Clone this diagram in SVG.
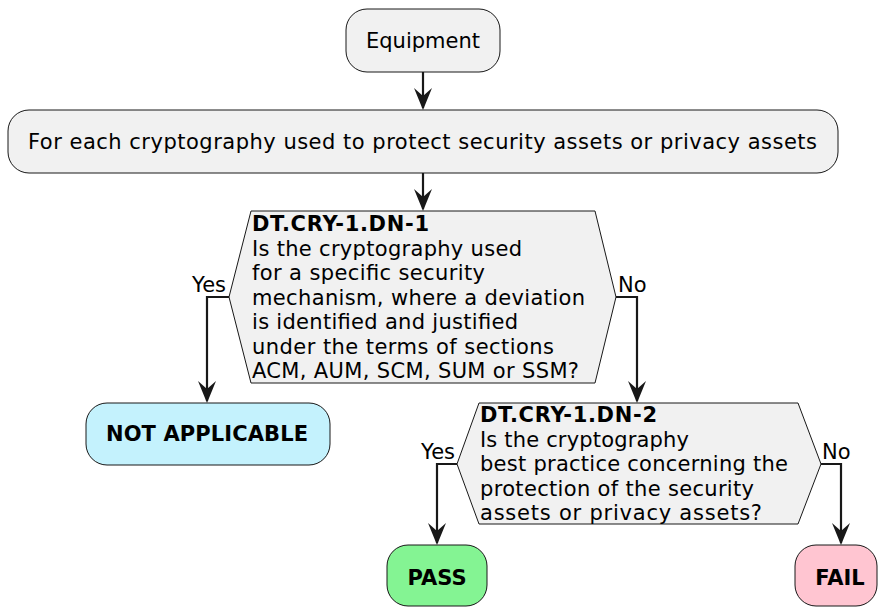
<svg xmlns="http://www.w3.org/2000/svg" width="878" height="607" viewBox="0 0 878 607">
  <style>
    .box { fill: #F1F1F1; stroke: #181818; stroke-width: 1; }
    .txt { font-family: "DejaVu Sans", "Liberation Sans", sans-serif; font-size: 21px; fill: #000000; }
    .bold { font-weight: bold; }
    .lbl { font-family: "DejaVu Sans", "Liberation Sans", sans-serif; font-size: 21px; fill: #000000; }
    .edge { fill: none; stroke: #181818; stroke-width: 2.2; }
    .head { fill: #181818; }
  </style>
  <rect width="878" height="607" fill="#FFFFFF"/>

  <!-- connectors: orthogonal flow lines with notched arrowheads -->
  <g id="connectors">
    <path class="edge" d="M423,72 L423,108"/>
    <polygon class="head" points="414,88 423,110 432,88 423,96"/>
    <path class="edge" d="M423,173 L423,209"/>
    <polygon class="head" points="414,189 423,211 432,189 423,197"/>
    <path class="edge" d="M229,297 L207,297 L207,401"/>
    <polygon class="head" points="198,381 207,403 216,381 207,389"/>
    <path class="edge" d="M616,297 L637,297 L637,401"/>
    <polygon class="head" points="628,381 637,403 646,381 637,389"/>
    <path class="edge" d="M457,464 L437,464 L437,543"/>
    <polygon class="head" points="428,523 437,545 446,523 437,531"/>
    <path class="edge" d="M821,464 L841,464 L841,543"/>
    <polygon class="head" points="832,523 841,545 850,523 841,531"/>
    <text class="lbl" x="226" y="292" text-anchor="end">Yes</text>
    <text class="lbl" x="618" y="292">No</text>
    <text class="lbl" x="455" y="459" text-anchor="end">Yes</text>
    <text class="lbl" x="822" y="459">No</text>
  </g>

  <g id="equipment">
    <rect class="box" x="346" y="9" width="154" height="63" rx="21"/>
    <text class="txt" x="423" y="48" text-anchor="middle">Equipment</text>
  </g>

  <g id="for-each">
    <rect class="box" x="8" y="110" width="830" height="63" rx="21"/>
    <text class="txt" x="28" y="149" textLength="789" lengthAdjust="spacing">For each cryptography used to protect security assets or privacy assets</text>
  </g>

  <g id="dn-1">
    <polygon class="box" points="251,211 595,211 616,297 595,383 251,383 229,297"/>
    <text class="txt bold" x="252" y="231" textLength="177" lengthAdjust="spacing">DT.CRY-1.DN-1</text>
    <text class="txt" x="252" y="255.5" textLength="270" lengthAdjust="spacing">Is the cryptography used</text>
    <text class="txt" x="252" y="280" textLength="233" lengthAdjust="spacing">for a specific security</text>
    <text class="txt" x="252" y="304.5" textLength="333" lengthAdjust="spacing">mechanism, where a deviation</text>
    <text class="txt" x="252" y="329" textLength="266" lengthAdjust="spacing">is identified and justified</text>
    <text class="txt" x="252" y="353.5" textLength="302" lengthAdjust="spacing">under the terms of sections</text>
    <text class="txt" x="252" y="378" textLength="327" lengthAdjust="spacing">ACM, AUM, SCM, SUM or SSM?</text>
  </g>

  <g id="not-applicable">
    <rect class="box" x="86" y="403" width="244" height="62" rx="21" style="fill:#C4F2FD"/>
    <text class="txt bold" x="106" y="441" textLength="202" lengthAdjust="spacing">NOT APPLICABLE</text>
  </g>

  <g id="dn-2">
    <polygon class="box" points="479,403 798,403 821,464 798,524 479,524 457,464"/>
    <text class="txt bold" x="480" y="422" textLength="177" lengthAdjust="spacing">DT.CRY-1.DN-2</text>
    <text class="txt" x="480" y="446.5" textLength="209" lengthAdjust="spacing">Is the cryptography</text>
    <text class="txt" x="480" y="471" textLength="308" lengthAdjust="spacing">best practice concerning the</text>
    <text class="txt" x="480" y="495.5" textLength="274" lengthAdjust="spacing">protection of the security</text>
    <text class="txt" x="480" y="520" textLength="282" lengthAdjust="spacing">assets or privacy assets?</text>
  </g>

  <g id="pass">
    <rect class="box" x="387" y="545" width="100" height="61" rx="21" style="fill:#84F493"/>
    <text class="txt bold" x="437" y="585" text-anchor="middle">PASS</text>
  </g>

  <g id="fail">
    <rect class="box" x="795" y="545" width="82" height="61" rx="21" style="fill:#FFC5D1"/>
    <text class="txt bold" x="840" y="585" text-anchor="middle">FAIL</text>
  </g>
</svg>
